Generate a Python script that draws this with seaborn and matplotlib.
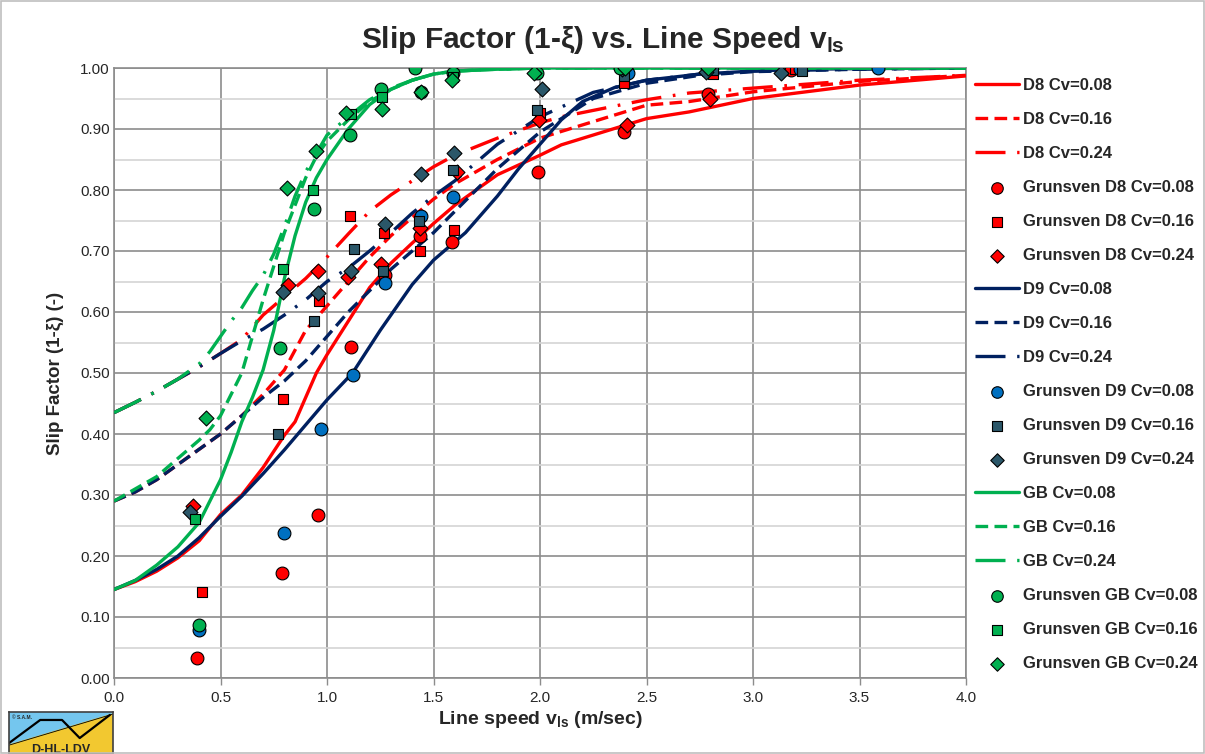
import matplotlib
matplotlib.use("Agg")
import matplotlib.pyplot as plt
from matplotlib.patches import Rectangle, Polygon
from matplotlib.ticker import MultipleLocator, FormatStrFormatter
import seaborn as sns

# model curves
d8_08_x = [0, 0.1, 0.2, 0.3, 0.4, 0.5, 0.6, 0.7, 0.8, 0.85, 0.9, 0.95, 1.0, 1.1, 1.2, 1.3, 1.4, 1.5, 1.6, 1.8, 2.0, 2.1, 2.5, 2.7, 3.0, 3.5, 4.0]
d8_08_y = [0.145, 0.158, 0.175, 0.197, 0.225, 0.268, 0.30, 0.345, 0.398, 0.42, 0.46, 0.50, 0.53, 0.585, 0.64, 0.68, 0.713, 0.745, 0.775, 0.825, 0.857, 0.874, 0.917, 0.928, 0.95, 0.972, 0.987]

d8_16_x = [0, 0.1, 0.2, 0.3, 0.4, 0.5, 0.6, 0.7, 0.8, 0.9, 1.0, 1.1, 1.2, 1.3, 1.4, 1.5, 1.6, 1.8, 2.0, 2.1, 2.5, 2.7, 3.0, 3.5, 4.0]
d8_16_y = [0.29, 0.305, 0.325, 0.35, 0.375, 0.40, 0.43, 0.465, 0.505, 0.57, 0.61, 0.65, 0.69, 0.725, 0.755, 0.785, 0.81, 0.85, 0.885, 0.896, 0.939, 0.945, 0.961, 0.978, 0.988]

d8_24_x = [0, 0.1, 0.2, 0.3, 0.4, 0.5, 0.6, 0.7, 0.8, 0.9, 1.0, 1.1, 1.2, 1.3, 1.4, 1.5, 1.6, 1.8, 2.0, 2.1, 2.5, 2.7, 3.0, 3.5, 4.0]
d8_24_y = [0.435, 0.452, 0.47, 0.49, 0.51, 0.532, 0.555, 0.595, 0.625, 0.655, 0.69, 0.728, 0.765, 0.792, 0.815, 0.838, 0.857, 0.885, 0.91, 0.92, 0.948, 0.959, 0.967, 0.98, 0.988]

d9_08_x = [0, 0.1, 0.2, 0.3, 0.4, 0.5, 0.6, 0.7, 0.8, 0.9, 1.0, 1.12, 1.25, 1.4, 1.5, 1.65, 1.8, 1.9, 2.0, 2.1, 2.2, 2.35, 2.5, 2.75, 3.0, 3.25, 3.5, 4.0]
d9_08_y = [0.145, 0.16, 0.178, 0.2, 0.23, 0.265, 0.298, 0.335, 0.374, 0.415, 0.456, 0.50, 0.57, 0.645, 0.685, 0.73, 0.79, 0.835, 0.875, 0.915, 0.945, 0.968, 0.98, 0.99, 0.995, 0.998, 0.999, 1.0]

d9_16_x = [0, 0.1, 0.2, 0.3, 0.4, 0.5, 0.6, 0.7, 0.8, 0.9, 1.0, 1.1, 1.2, 1.3, 1.4, 1.5, 1.6, 1.8, 2.0, 2.25, 2.5, 2.75, 3.0, 3.5, 4.0]
d9_16_y = [0.29, 0.305, 0.325, 0.35, 0.375, 0.40, 0.43, 0.46, 0.487, 0.52, 0.56, 0.60, 0.635, 0.67, 0.70, 0.73, 0.765, 0.835, 0.895, 0.95, 0.975, 0.988, 0.994, 0.998, 1.0]

d9_24_x = [0, 0.1, 0.2, 0.3, 0.4, 0.5, 0.6, 0.7, 0.8, 0.9, 1.0, 1.1, 1.2, 1.3, 1.4, 1.5, 1.6, 1.8, 2.0, 2.25, 2.5, 2.75, 3.0, 3.5, 4.0]
d9_24_y = [0.435, 0.452, 0.47, 0.49, 0.51, 0.532, 0.553, 0.572, 0.595, 0.62, 0.65, 0.672, 0.70, 0.73, 0.762, 0.79, 0.815, 0.875, 0.92, 0.96, 0.98, 0.99, 0.995, 0.998, 1.0]

gb_08_x = [0, 0.1, 0.2, 0.3, 0.4, 0.5, 0.55, 0.6, 0.65, 0.7, 0.75, 0.8, 0.85, 0.9, 0.95, 1.0, 1.1, 1.2, 1.3, 1.4, 1.5, 1.6, 1.8, 2.0, 2.5, 3.0, 4.0]
gb_08_y = [0.145, 0.16, 0.185, 0.215, 0.255, 0.325, 0.37, 0.42, 0.46, 0.505, 0.57, 0.655, 0.725, 0.78, 0.82, 0.85, 0.90, 0.94, 0.965, 0.98, 0.99, 0.995, 0.998, 1.0, 1.0, 1.0, 1.0]

gb_16_x = [0, 0.1, 0.2, 0.3, 0.4, 0.45, 0.5, 0.55, 0.6, 0.65, 0.7, 0.75, 0.8, 0.85, 0.9, 0.95, 1.0, 1.1, 1.2, 1.3, 1.4, 1.5, 1.6, 1.8, 2.0, 2.5, 3.0, 4.0]
gb_16_y = [0.29, 0.31, 0.33, 0.36, 0.39, 0.407, 0.43, 0.465, 0.50, 0.56, 0.62, 0.675, 0.73, 0.775, 0.82, 0.855, 0.88, 0.915, 0.945, 0.965, 0.98, 0.99, 0.995, 0.998, 1.0, 1.0, 1.0, 1.0]

gb_24_x = [0, 0.1, 0.2, 0.3, 0.4, 0.45, 0.5, 0.55, 0.6, 0.65, 0.7, 0.75, 0.8, 0.85, 0.9, 0.95, 1.0, 1.1, 1.2, 1.3, 1.4, 1.5, 1.6, 1.8, 2.0, 2.5, 3.0, 4.0]
gb_24_y = [0.435, 0.452, 0.47, 0.49, 0.515, 0.535, 0.56, 0.585, 0.607, 0.635, 0.66, 0.695, 0.74, 0.79, 0.83, 0.86, 0.89, 0.92, 0.948, 0.967, 0.98, 0.99, 0.995, 0.998, 1.0, 1.0, 1.0, 1.0]

# Grunsven measurements
g_d8_08_x = [0.388, 0.79, 0.956, 1.113, 1.27, 1.437, 1.585, 1.99, 2.396, 2.79, 3.18]
g_d8_08_y = [0.033, 0.172, 0.268, 0.542, 0.66, 0.725, 0.714, 0.83, 0.895, 0.957, 0.997]
g_d8_16_x = [0.415, 0.795, 0.964, 1.108, 1.268, 1.437, 1.596, 2.0, 2.396, 2.814, 3.197]
g_d8_16_y = [0.141, 0.457, 0.618, 0.757, 0.73, 0.70, 0.734, 0.926, 0.976, 0.99, 0.998]
g_d8_24_x = [0.372, 0.818, 0.956, 1.10, 1.255, 1.437, 1.61, 1.997, 2.407, 2.80]
g_d8_24_y = [0.282, 0.645, 0.668, 0.658, 0.679, 0.737, 0.83, 0.915, 0.906, 0.95]

g_d9_08_x = [0.40, 0.798, 0.972, 1.12, 1.272, 1.44, 1.59, 2.415, 3.22, 3.588]
g_d9_08_y = [0.078, 0.237, 0.408, 0.497, 0.647, 0.758, 0.788, 0.991, 0.999, 1.0]
g_d9_16_x = [0.768, 0.939, 1.126, 1.261, 1.432, 1.59, 1.984, 2.396, 2.81, 3.228]
g_d9_16_y = [0.40, 0.585, 0.704, 0.667, 0.75, 0.832, 0.931, 0.987, 0.997, 0.995]
g_d9_24_x = [0.357, 0.795, 0.959, 1.112, 1.274, 1.443, 1.598, 2.011, 2.383, 2.779, 3.13]
g_d9_24_y = [0.272, 0.632, 0.631, 0.668, 0.744, 0.826, 0.86, 0.966, 0.998, 0.994, 0.991]

g_gb_08_x = [0.40, 0.778, 0.94, 1.108, 1.252, 1.413, 1.441, 1.593, 1.985, 2.376]
g_gb_08_y = [0.087, 0.541, 0.769, 0.89, 0.965, 1.0, 0.961, 0.992, 0.991, 1.0]
g_gb_16_x = [0.382, 0.795, 0.934, 1.114, 1.257, 1.593]
g_gb_16_y = [0.26, 0.67, 0.80, 0.925, 0.953, 0.985]
g_gb_24_x = [0.43, 0.81, 0.947, 1.09, 1.257, 1.441, 1.588, 1.97, 2.40, 2.79]
g_gb_24_y = [0.427, 0.803, 0.864, 0.927, 0.932, 0.961, 0.98, 0.991, 1.0, 1.0]

RED = "#FF0000"
NAVY = "#002060"
GREEN = "#00B050"
BLUE = "#0070C0"
SLATE = "#2B5769"

sns.set_style("white")
plt.rcParams["font.family"] = ["Liberation Sans", "DejaVu Sans"]
plt.rcParams["mathtext.fontset"] = "custom"
plt.rcParams["mathtext.rm"] = "Liberation Sans:bold"
plt.rcParams["mathtext.it"] = "Liberation Sans:bold"
plt.rcParams["mathtext.bf"] = "Liberation Sans:bold"

fig = plt.figure(figsize=(12.05, 7.54), dpi=100)
ax = fig.add_axes([114 / 1205, 76 / 754, 852 / 1205, 610 / 754])

solid = "-"
dashed = (0, (3.8, 1.9))
dashdot = (0, (9, 3.5, 0.8, 3.5))
lw = 2.4

def curve(x, y, color, ls, label):
    sns.lineplot(x=x, y=y, ax=ax, color=color, linewidth=lw, linestyle=ls,
                 label=label, errorbar=None, sort=False, zorder=3)

def points(x, y, color, marker, size, label):
    sns.scatterplot(x=x, y=y, ax=ax, color=color, marker=marker, s=size,
                    edgecolor="black", linewidth=0.8, label=label, zorder=5)

curve(d8_08_x, d8_08_y, RED, solid, "D8 Cv=0.08")
curve(d8_16_x, d8_16_y, RED, dashed, "D8 Cv=0.16")
curve(d8_24_x, d8_24_y, RED, dashdot, "D8 Cv=0.24")
points(g_d8_08_x, g_d8_08_y, RED, "o", 85, "Grunsven D8 Cv=0.08")
points(g_d8_16_x, g_d8_16_y, RED, "s", 62, "Grunsven D8 Cv=0.16")
points(g_d8_24_x, g_d8_24_y, RED, "D", 58, "Grunsven D8 Cv=0.24")
curve(d9_08_x, d9_08_y, NAVY, solid, "D9 Cv=0.08")
curve(d9_16_x, d9_16_y, NAVY, dashed, "D9 Cv=0.16")
curve(d9_24_x, d9_24_y, NAVY, dashdot, "D9 Cv=0.24")
points(g_d9_08_x, g_d9_08_y, BLUE, "o", 85, "Grunsven D9 Cv=0.08")
points(g_d9_16_x, g_d9_16_y, SLATE, "s", 62, "Grunsven D9 Cv=0.16")
points(g_d9_24_x, g_d9_24_y, SLATE, "D", 58, "Grunsven D9 Cv=0.24")
curve(gb_08_x, gb_08_y, GREEN, solid, "GB Cv=0.08")
curve(gb_16_x, gb_16_y, GREEN, dashed, "GB Cv=0.16")
curve(gb_24_x, gb_24_y, GREEN, dashdot, "GB Cv=0.24")
points(g_gb_08_x, g_gb_08_y, GREEN, "o", 85, "Grunsven GB Cv=0.08")
points(g_gb_16_x, g_gb_16_y, GREEN, "s", 62, "Grunsven GB Cv=0.16")
points(g_gb_24_x, g_gb_24_y, GREEN, "D", 58, "Grunsven GB Cv=0.24")

ax.set_xlim(0, 4)
ax.set_ylim(0, 1)
ax.xaxis.set_major_locator(MultipleLocator(0.5))
ax.xaxis.set_major_formatter(FormatStrFormatter("%.1f"))
ax.yaxis.set_major_locator(MultipleLocator(0.1))
ax.yaxis.set_minor_locator(MultipleLocator(0.05))
ax.yaxis.set_major_formatter(FormatStrFormatter("%.2f"))
ax.grid(True, which="major", color="#8C8C8C", linewidth=1.2)
ax.grid(True, which="minor", axis="y", color="#D4D4D4", linewidth=1.2)
ax.set_axisbelow(True)
ax.tick_params(axis="x", which="major", labelsize=11, direction="out", length=5,
               color="#8C8C8C", width=1, bottom=True, pad=4)
ax.tick_params(axis="y", which="major", labelsize=11, length=0, pad=3, left=True)
ax.tick_params(axis="y", which="minor", left=False)
for s in ax.spines.values():
    s.set_color("#8C8C8C")
    s.set_linewidth(1.2)

ax.set_xlabel("Line speed v$_{ls}$ (m/sec)", fontsize=14, fontweight="bold", labelpad=3)
ax.set_ylabel("Slip Factor (1-ξ) (-)", fontsize=13.5, fontweight="bold", labelpad=12)
fig.text(0.5, 0.947, "Slip Factor (1-ξ) vs. Line Speed v$_{ls}$", ha="center", va="center",
         fontsize=21.5, fontweight="bold")

handles, labels = ax.get_legend_handles_labels()
ax.legend(handles, labels, loc="upper left", bbox_to_anchor=(975 / 1205, 1 - 78 / 754),
          bbox_transform=fig.transFigure, frameon=False, prop={"size": 12, "weight": "bold"},
          handlelength=2.65, handletextpad=0.25, labelspacing=1.14, markerscale=0.9,
          borderaxespad=0, borderpad=0)

# chart border
fig.patches.append(Rectangle((0.001, 0.001), 0.998, 0.998, transform=fig.transFigure,
                             fill=False, edgecolor="#BFBFBF", linewidth=1.2))

# logo
lg = fig.add_axes([9 / 1205, 0, 104 / 1205, 42 / 754])
lg.set_xlim(0, 1)
lg.set_ylim(0, 1)
lg.add_patch(Rectangle((0, 0), 1, 1, color="#74C6EE"))
lg.add_patch(Polygon([(0, 0), (0, 0.21), (1, 0.95), (1, 0)], closed=True, color="#F2C830"))
lg.plot([0, 1], [0.21, 0.95], color="black", linewidth=0.6)
lg.plot([0, 0.3, 0.51, 0.68, 0.97], [0.26, 0.81, 0.81, 0.38, 0.93], color="black", linewidth=1.6)
lg.text(0.5, 0.1, "D-HL-LDV", ha="center", va="center", fontsize=9, fontweight="bold")
lg.text(0.03, 0.88, "© S.A.M.", ha="left", va="center", fontsize=3.5, fontweight="bold")
lg.set_xticks([])
lg.set_yticks([])
for s in lg.spines.values():
    s.set_color("#404040")
    s.set_linewidth(1.2)

fig.savefig("out.png", dpi=100)
